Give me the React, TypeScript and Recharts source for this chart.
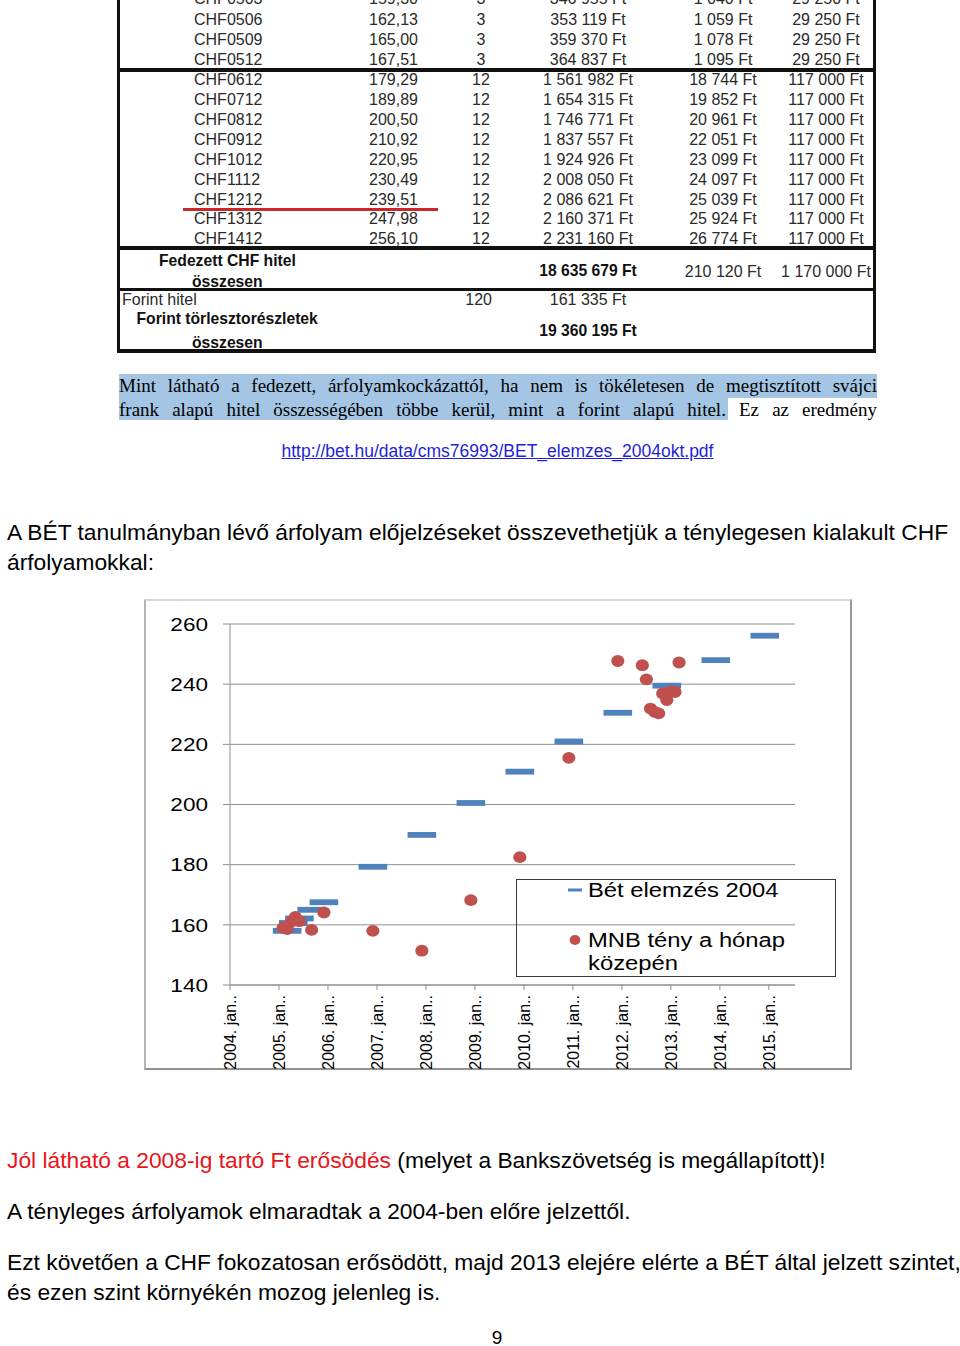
import React from "react";
import { ScatterChart, Scatter, XAxis, YAxis, CartesianGrid, Legend } from "recharts";

// ---------------- Data ----------------
// Table (image of the BÉT analysis)
const tableCodes = ["CHF0503", "CHF0506", "CHF0509", "CHF0512", "CHF0612", "CHF0712", "CHF0812", "CHF0912", "CHF1012", "CHF1112", "CHF1212", "CHF1312", "CHF1412"];
const tableRates = ["159,30", "162,13", "165,00", "167,51", "179,29", "189,89", "200,50", "210,92", "220,95", "230,49", "239,51", "247,98", "256,10"];
const tableMonths = ["3", "3", "3", "3", "12", "12", "12", "12", "12", "12", "12", "12", "12"];
const tableAmounts = ["346 955 Ft", "353 119 Ft", "359 370 Ft", "364 837 Ft", "1 561 982 Ft", "1 654 315 Ft", "1 746 771 Ft", "1 837 557 Ft", "1 924 926 Ft", "2 008 050 Ft", "2 086 621 Ft", "2 160 371 Ft", "2 231 160 Ft"];
const tableInterest = ["1 040 Ft", "1 059 Ft", "1 078 Ft", "1 095 Ft", "18 744 Ft", "19 852 Ft", "20 961 Ft", "22 051 Ft", "23 099 Ft", "24 097 Ft", "25 039 Ft", "25 924 Ft", "26 774 Ft"];
const tableFees = ["29 250 Ft", "29 250 Ft", "29 250 Ft", "29 250 Ft", "117 000 Ft", "117 000 Ft", "117 000 Ft", "117 000 Ft", "117 000 Ft", "117 000 Ft", "117 000 Ft", "117 000 Ft", "117 000 Ft"];
const chfTotals = ["18 635 679 Ft", "210 120 Ft", "1 170 000 Ft"];
const hufRow = ["120", "161 335 Ft"];
const hufTotal = "19 360 195 Ft";

// Chart: x = months since 2004 jan.
const betMonths = [14, 15.5, 17, 20, 23, 35, 47, 59, 71, 83, 95, 107, 119, 131];
const betValues = [158.0, 160.6, 162.13, 165.0, 167.51, 179.29, 189.89, 200.5, 210.92, 220.95, 230.49, 239.51, 247.98, 256.1];
const mnbMonths = [13, 14, 15, 16, 17, 20, 23, 35, 47, 59, 71, 83, 95, 101, 102, 103, 104, 105, 106, 107, 108, 109, 110];
const mnbValues = [159.0, 158.6, 161.0, 162.6, 161.2, 158.3, 164.1, 158.0, 151.4, 168.2, 182.5, 215.5, 247.7, 246.3, 241.6, 231.9, 230.8, 230.3, 236.9, 234.7, 237.6, 237.4, 247.2];
const xTickMonths = [0, 12, 24, 36, 48, 60, 72, 84, 96, 108, 120, 132];
const xTickLabels = ["2004. jan..", "2005. jan..", "2006. jan..", "2007. jan..", "2008. jan..", "2009. jan..", "2010. jan..", "2011. jan..", "2012. jan..", "2013. jan..", "2014. jan..", "2015. jan.."];
const yTicks = [140, 160, 180, 200, 220, 240, 260];
const seriesNames = ["Bét elemzés 2004", "MNB tény a hónap közepén"];

const BLUE = "#4f81bd";
const RED = "#c0504d";
const SANS = "'Liberation Sans', Arial, sans-serif";
const SERIF = "'Liberation Serif', 'Times New Roman', serif";

// ---------------- Helpers ----------------
type TP = {
  x: number; y: number; a?: "l" | "r" | "c"; s?: number; w?: number; c?: string; f?: string; lh?: number;
  children: React.ReactNode; style?: React.CSSProperties;
};
function T({ x, y, a = "l", s = 16, w = 400, c = "#2a2a2a", f = SANS, lh, children, style }: TP) {
  const L = lh ?? Math.round(s * 1.3);
  const base: React.CSSProperties = {
    position: "absolute", top: y - L / 2, fontSize: s, lineHeight: `${L}px`, fontWeight: w,
    color: c, fontFamily: f, whiteSpace: "nowrap", ...style,
  };
  if (a === "l") return <div style={{ ...base, left: x }}>{children}</div>;
  if (a === "r") return <div style={{ ...base, left: x - 600, width: 600, textAlign: "right" }}>{children}</div>;
  return <div style={{ ...base, left: x - 400, width: 800, textAlign: "center" }}>{children}</div>;
}
function Box({ l, t, w, h, bg }: { l: number; t: number; w: number; h: number; bg: string }) {
  return <div style={{ position: "absolute", left: l, top: t, width: w, height: h, background: bg }} />;
}

const rowY = (i: number) => (i === 0 ? -2 : i <= 3 ? 19.2 + (i - 1) * 20 : 79.8 + (i - 4) * 19.875);

function TableImage() {
  return (
    <>
      {tableCodes.map((code, i) => (
        <React.Fragment key={code}>
          <T x={194} y={rowY(i)}>{code}</T>
          <T x={418} y={rowY(i)} a="r">{tableRates[i]}</T>
          <T x={481} y={rowY(i)} a="c">{tableMonths[i]}</T>
          <T x={588} y={rowY(i)} a="c">{tableAmounts[i]}</T>
          <T x={723} y={rowY(i)} a="c">{tableInterest[i]}</T>
          <T x={826} y={rowY(i)} a="c">{tableFees[i]}</T>
        </React.Fragment>
      ))}
      <Box l={183} t={208} w={255} h={3} bg="#c8282c" />
      <T x={159} y={261} s={15.7} w={700} c="#111">Fedezett CHF hitel</T>
      <T x={192} y={281.7} s={15.7} w={700} c="#111">összesen</T>
      <T x={588} y={271} a="c" s={15.7} w={700} c="#111">{chfTotals[0]}</T>
      <T x={723} y={271} a="c">{chfTotals[1]}</T>
      <T x={826} y={271} a="c">{chfTotals[2]}</T>
      <T x={122} y={299.7}>Forint hitel</T>
      <T x={492} y={299.7} a="r">{hufRow[0]}</T>
      <T x={588} y={299.7} a="c">{hufRow[1]}</T>
      <T x={136.5} y={319} s={15.7} w={700} c="#111">Forint törlesztorészletek</T>
      <T x={192} y={342.7} s={15.7} w={700} c="#111">összesen</T>
      <T x={588} y={330.8} a="c" s={15.7} w={700} c="#111">{hufTotal}</T>
      {/* frame lines */}
      <Box l={117} t={0} w={3} h={352} bg="#111" />
      <Box l={873} t={0} w={3} h={352} bg="#111" />
      <Box l={117} t={68} w={759} h={4} bg="#111" />
      <Box l={117} t={246} w={759} h={4} bg="#111" />
      <Box l={117} t={287.5} w={759} h={3.5} bg="#111" />
      <Box l={117} t={349} w={759} h={3.5} bg="#111" />
    </>
  );
}

// ---------------- Chart ----------------
const betData = betMonths.map((m, i) => ({ m, v: betValues[i] }));
const mnbData = mnbMonths.map((m, i) => ({ m, v: mnbValues[i] }));

const BlueDash = (p: any) => <rect x={p.cx - 14.3} y={p.cy - 2.9} width={28.6} height={5.8} fill={BLUE} />;
const RedDot = (p: any) => <ellipse cx={p.cx} cy={p.cy} rx={6.6} ry={5.9} fill={RED} />;

const XTick = (p: any) => {
  const idx = xTickMonths.indexOf(p.payload.value);
  return (
    <text x={p.x} y={p.y} transform={`rotate(-90, ${p.x}, ${p.y})`} textAnchor="end" dy="0.36em"
      fontSize={16} fill="#000" fontFamily={SANS}>{xTickLabels[idx]}</text>
  );
};
const YTick = (p: any) => (
  <g transform={`translate(${p.x},${p.y}) scale(1.22,1)`}>
    <text x={0} y={0} textAnchor="end" dy="0.36em" fontSize={18.5} fill="#000" fontFamily={SANS}>{p.payload.value}</text>
  </g>
);

const renderLegend = (props: any) => {
  const names: string[] = (props.payload || []).map((e: any) => e.value);
  const n0 = names[0] ?? seriesNames[0];
  const n1 = names[1] ?? seriesNames[1];
  const txt: React.CSSProperties = {
    position: "absolute", left: 71, fontSize: 19.5, lineHeight: "23px", fontFamily: SANS, color: "#000",
    transform: "scaleX(1.22)", transformOrigin: "left top", width: 200, whiteSpace: "normal",
  };
  return (
    <div style={{ position: "relative", width: 320, height: 98, border: "1px solid #3a3a3a", boxSizing: "border-box" }}>
      <svg width={320} height={98} style={{ position: "absolute", left: -1, top: -1 }}>
        <line x1={52} x2={66} y1={11} y2={11} stroke={BLUE} strokeWidth={3} />
        <ellipse cx={59} cy={61} rx={5.4} ry={4.9} fill={RED} />
      </svg>
      <div style={{ ...txt, top: -1.5 }}>{n0}</div>
      <div style={{ ...txt, top: 48.5 }}>{n1}</div>
    </div>
  );
};

function Chart() {
  return (
    <>
      <div style={{
        position: "absolute", left: 144, top: 599, width: 708, height: 471, boxSizing: "border-box",
        borderTop: "2px solid #d6d6d6", borderLeft: "2px solid #b4b4b4", borderRight: "2px solid #9a9a9a", borderBottom: "2px solid #929292",
      }} />
      <div style={{ position: "absolute", left: 145, top: 600, width: 706, height: 469 }}>
        <ScatterChart width={706} height={469} margin={{ top: 24, right: 56, bottom: 0, left: 0 }}>
          <CartesianGrid horizontal vertical={false} stroke="#8e8e8e" />
          <XAxis type="number" dataKey="m" domain={[0, 138.4]} ticks={xTickMonths} interval={0} height={84}
            tick={XTick} tickSize={5} tickMargin={5} axisLine={{ stroke: "#8e8e8e" }} tickLine={{ stroke: "#8e8e8e" }} allowDataOverflow />
          <YAxis type="number" dataKey="v" domain={[140, 260]} ticks={yTicks} interval={0} width={85}
            tick={YTick} tickSize={7} tickMargin={15} axisLine={{ stroke: "#8e8e8e" }} tickLine={{ stroke: "#8e8e8e" }} allowDataOverflow />
          <Scatter name={seriesNames[0]} data={betData} fill={BLUE} shape={BlueDash} isAnimationActive={false} />
          <Scatter name={seriesNames[1]} data={mnbData} fill={RED} shape={RedDot} isAnimationActive={false} />
          <Legend layout="vertical" align="center" verticalAlign="middle" width={320} height={98}
            content={renderLegend} wrapperStyle={{ left: 371, top: 279, width: 320, height: 98 }} />
        </ScatterChart>
      </div>
    </>
  );
}

// ---------------- Page ----------------
export default function App() {
  const body = 22.8;
  return (
    <div style={{ position: "absolute", left: 0, top: 0, width: 960, height: 1346, background: "#fff", overflow: "hidden", fontFamily: SANS }}>
      <TableImage />

      {/* highlighted quote */}
      <Box l={119} t={374} w={758} h={24} bg="#a4c6e4" />
      <Box l={119} t={398} w={609} h={22} bg="#a4c6e4" />
      <div style={{ position: "absolute", left: 119, top: 374, width: 758, fontFamily: SERIF, fontSize: 19, lineHeight: "23px", color: "#000", textAlign: "justify", textAlignLast: "justify" }}>
        Mint látható a fedezett, árfolyamkockázattól, ha nem is tökéletesen de megtisztított svájci
      </div>
      <div style={{ position: "absolute", left: 119, top: 397.5, width: 758, fontFamily: SERIF, fontSize: 19, lineHeight: "23px", color: "#000", textAlign: "justify", textAlignLast: "justify" }}>
        frank alapú hitel összességében többe kerül, mint a forint alapú hitel. Ez az eredmény
      </div>

      <T x={497.5} y={451} a="c" s={17.5} c="#1f1fd6" style={{ textDecoration: "underline" }}>http://bet.hu/data/cms76993/BET_elemzes_2004okt.pdf</T>

      <T x={7} y={532} s={body} lh={30} c="#000">A BÉT tanulmányban lévő árfolyam előjelzéseket összevethetjük a ténylegesen kialakult CHF</T>
      <T x={7} y={562} s={body} lh={30} c="#000">árfolyamokkal:</T>

      <Chart />

      <T x={7} y={1160} s={body} lh={30} c="#000"><span style={{ color: "#e8141b" }}>Jól látható a 2008-ig tartó Ft erősödés</span> (melyet a Bankszövetség is megállapított)!</T>
      <T x={7} y={1211} s={body} lh={30} c="#000">A tényleges árfolyamok elmaradtak a 2004-ben előre jelzettől.</T>
      <T x={7} y={1262} s={body} lh={30} c="#000">Ezt követően a CHF fokozatosan erősödött, majd 2013 elejére elérte a BÉT által jelzett szintet,</T>
      <T x={7} y={1292} s={body} lh={30} c="#000">és ezen szint környékén mozog jelenleg is.</T>
      <T x={497} y={1337} a="c" s={19} c="#000">9</T>
    </div>
  );
}
